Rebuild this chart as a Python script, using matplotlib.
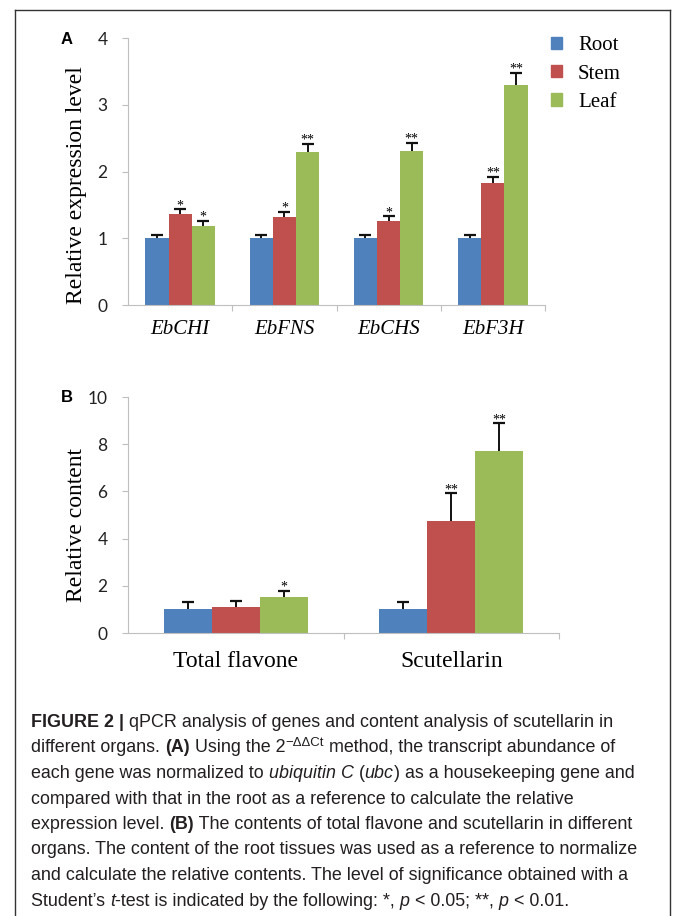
import numpy as np
import matplotlib
matplotlib.use("Agg")
import matplotlib.pyplot as plt
from matplotlib import font_manager
from matplotlib.transforms import IdentityTransform
from matplotlib.lines import Line2D
from matplotlib.patches import Patch

# qPCR data (panel A)
genes = ["EbCHI", "EbFNS", "EbCHS", "EbF3H"]
organs = ["Root", "Stem", "Leaf"]
expr_root = [1.0, 1.0, 1.0, 1.0]
expr_stem = [1.37, 1.32, 1.26, 1.83]
expr_leaf = [1.19, 2.29, 2.31, 3.30]
expr_root_err = [0.05, 0.05, 0.05, 0.05]
expr_stem_err = [0.065, 0.08, 0.07, 0.095]
expr_leaf_err = [0.075, 0.125, 0.125, 0.18]
expr_sig = [["", "*", "*"], ["", "*", "**"], ["", "*", "**"], ["", "**", "**"]]

# content data (panel B)
compounds = ["Total flavone", "Scutellarin"]
cont_root = [1.0, 1.0]
cont_stem = [1.09, 4.73]
cont_leaf = [1.54, 7.70]
cont_root_err = [0.30, 0.30]
cont_stem_err = [0.28, 1.19]
cont_leaf_err = [0.26, 1.18]
cont_sig = [["", "", "*"], ["", "**", "**"]]

colors = ["#4F81BD", "#C0504D", "#9BBB59"]
spine_col = "#BFBFBF"
serif = "Liberation Serif"
tickfont = "Lato"

W, H = 673, 916
fig = plt.figure(figsize=(W / 100, H / 100), dpi=100)


def px_axes(x0, y_top, x1, y_bot):
    return fig.add_axes([x0 / W, 1 - y_bot / H, (x1 - x0) / W, (y_bot - y_top) / H])


def bar_panel(ax, cats, vals, errs, sig, ymax, step, lab_size, lab_pad, italic):
    n = len(cats)
    x = np.arange(n)
    bw = 0.222
    for i, (v, e) in enumerate(zip(vals, errs)):
        pos = x + (i - 1) * bw
        # symmetric bars drawn underneath, so only the upper half shows
        ax.errorbar(pos, v, yerr=e, fmt="none", ecolor="#111111",
                    elinewidth=1.4, capsize=4.5, capthick=1.6, zorder=1)
        ax.bar(pos, v, bw, color=colors[i], zorder=2, label=organs[i])
        for j in range(n):
            s = sig[j][i]
            if s:
                ax.text(pos[j], v[j] + e[j], s, ha="center", va="baseline",
                        fontsize=10, family=serif, zorder=4)
    ax.set_xlim(-0.5, n - 0.5)
    ax.set_ylim(0, ymax)
    ax.set_yticks(np.arange(0, ymax + step / 2, step))
    ax.set_xticks(x)
    ax.set_xticklabels(cats, fontsize=lab_size, family=serif,
                       style="italic" if italic else "normal")
    ax.set_xticks(np.arange(0.5, n, 1.0), minor=True)
    ax.tick_params(axis="x", which="major", length=0, pad=lab_pad)
    ax.tick_params(axis="x", which="minor", length=4.5, width=0.8,
                   color=spine_col, direction="out")
    ax.tick_params(axis="y", length=4.3, width=0.8, color=spine_col,
                   labelsize=12.5, pad=10.5)
    for lab in ax.get_yticklabels():
        lab.set_family(tickfont)
        lab.set_color("#222222")
    for side in ["top", "right"]:
        ax.spines[side].set_visible(False)
    for side in ["left", "bottom"]:
        ax.spines[side].set_color(spine_col)
        ax.spines[side].set_linewidth(0.8)
    ax.set_facecolor("none")


# panel A
axA = px_axes(128, 38.3, 545, 305)
bar_panel(axA, genes, [expr_root, expr_stem, expr_leaf],
          [expr_root_err, expr_stem_err, expr_leaf_err], expr_sig,
          4, 1, 15, 10.5, True)
axA.set_ylabel("Relative expression level", fontsize=17, family=serif)
axA.yaxis.set_label_coords(-0.098, 0.45)

handles = [Patch(color=c) for c in colors]
fig.legend(handles, organs, loc="upper left", bbox_to_anchor=(551 / W, 1 - 36.5 / H),
           frameon=False, prop={"family": serif, "size": 15},
           handlelength=0.52, handleheight=0.52, handletextpad=0.78,
           labelspacing=0.44, borderpad=0, borderaxespad=0)

# panel B
axB = px_axes(128, 397, 559, 633)
bar_panel(axB, compounds, [cont_root, cont_stem, cont_leaf],
          [cont_root_err, cont_stem_err, cont_leaf_err], cont_sig,
          10, 2, 17, 13, False)
axB.set_ylabel("Relative content", fontsize=17, family=serif)
axB.yaxis.set_label_coords(-0.095, 0.458)

fig.text(67 / W, 1 - 40 / H, "A", fontsize=12, fontweight="bold",
         family="Liberation Sans", ha="center", va="center")
fig.text(67 / W, 1 - 397 / H, "B", fontsize=12, fontweight="bold",
         family="Liberation Sans", ha="center", va="center")

# frame around the figure
frame_kw = dict(color="#333333", lw=1.0, transform=IdentityTransform())
fig.add_artist(Line2D([14.6, 14.6], [0, H - 10], **frame_kw))
fig.add_artist(Line2D([14.6, 670], [H - 10, H - 10], **frame_kw))
fig.add_artist(Line2D([670, 670], [0, H - 10], **frame_kw))

# caption, laid out run by run
names = {f.name for f in font_manager.fontManager.ttflist}
cap_font = "Liberation Sans Narrow" if "Liberation Sans Narrow" in names else "Liberation Sans"
cap_size = 12.9
cap_col = "#231F20"

caption = [
    [("FIGURE 2 | ", "b"), ("qPCR analysis of genes and content analysis of scutellarin in", "n")],
    [("different organs. ", "n"), ("(A)", "b"), (" Using the 2", "n"), ("\u2212\u0394\u0394Ct", "sup"),
     (" method, the transcript abundance of", "n")],
    [("each gene was normalized to ", "n"), ("ubiquitin C", "i"), (" (", "n"), ("ubc", "i"),
     (") as a housekeeping gene and", "n")],
    [("compared with that in the root as a reference to calculate the relative", "n")],
    [("expression level. ", "n"), ("(B)", "b"),
     (" The contents of total flavone and scutellarin in different", "n")],
    [("organs. The content of the root tissues was used as a reference to normalize", "n")],
    [("and calculate the relative contents. The level of significance obtained with a", "n")],
    [("Student\u2019s ", "n"), ("t", "i"), ("-test is indicated by the following: *, ", "n"), ("p", "i"),
     (" < 0.05; **, ", "n"), ("p", "i"), (" < 0.01.", "n")],
]
baselines = [727, 752.5, 778, 803.5, 829, 854.5, 880, 905.5]

renderer = fig.canvas.get_renderer()


def run_kw(style):
    kw = dict(family=cap_font, color=cap_col, fontsize=cap_size)
    if style == "b":
        kw["fontweight"] = "bold"
    elif style == "i":
        kw["style"] = "italic"
    elif style == "sup":
        kw["fontsize"] = cap_size * 0.74
    return kw


def advance(s, kw):
    t1 = fig.text(0, 0, s + "|", transform=IdentityTransform(), **kw)
    t2 = fig.text(0, 0, "|", transform=IdentityTransform(), **kw)
    w = t1.get_window_extent(renderer).width - t2.get_window_extent(renderer).width
    t1.remove()
    t2.remove()
    return w


for line, base in zip(caption, baselines):
    x = 31.0
    y = H - base
    for s, style in line:
        kw = run_kw(style)
        yy = y + 6.5 if style == "sup" else y
        fig.text(x, yy, s, transform=IdentityTransform(), va="baseline", ha="left", **kw)
        x += advance(s, kw)

fig.savefig("out.png", dpi=100)
